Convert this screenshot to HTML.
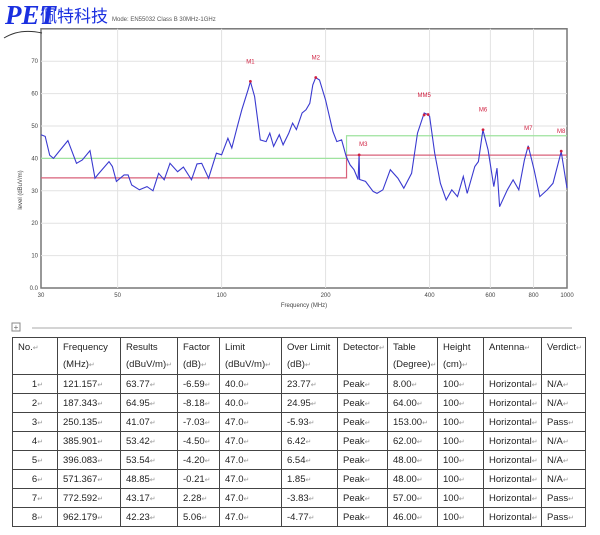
<!DOCTYPE html>
<html><head><meta charset="utf-8">
<style>
body{margin:0;background:#fff;width:600px;height:535px;overflow:hidden;font-family:"Liberation Sans","Noto Sans CJK SC",sans-serif;position:relative}
svg{position:absolute;left:0;top:0}
table{position:absolute;left:12px;top:337px;border-collapse:collapse;font-size:9.5px;color:#222;table-layout:fixed}
td{border:1px solid #444;padding:0 0 0 5px;height:18px;white-space:nowrap;overflow:hidden}
tr.h td{height:35px;vertical-align:top;line-height:17px;padding-top:1px}
.r{color:#999;font-size:7px}
</style></head><body>
<svg width="600" height="335">
<g id="grid"></g><g id="lim"></g><g id="trace"></g><g id="mk"></g><g id="ax"></g>
<text x="112" y="21" font-size="6" fill="#555">Mode: EN55032 Class B 30MHz-1GHz</text>
<text x="5" y="24" font-size="27" font-style="italic" font-family="Liberation Serif" fill="#1a2fe0" font-weight="bold">PET</text>
<text x="40" y="22" font-size="17" fill="#1a2fe0">佩特科技</text>
<path d="M4 38 Q20 28 42 33" stroke="#333" fill="none"/>
<text x="304" y="307" font-size="6" fill="#444" text-anchor="middle">Frequency (MHz)</text>
<text transform="translate(22,190) rotate(-90)" font-size="6" fill="#444" text-anchor="middle">level (dBuV/m)</text>
<line x1="32" y1="328" x2="572" y2="328" stroke="#aaa"/>
<rect x="12" y="323" width="8" height="8" fill="none" stroke="#888"/>
<text x="16" y="330" font-size="8" fill="#666" text-anchor="middle">+</text>
</svg>
<table>
<colgroup><col style="width:45px"><col style="width:63px"><col style="width:57px"><col style="width:42px"><col style="width:62px"><col style="width:56px"><col style="width:50px"><col style="width:50px"><col style="width:46px"><col style="width:58px"><col style="width:44px"></colgroup>
<tbody id="tb"></tbody></table>
<script>
const freqs=[30,30.85,31.8,32.6,33.8,35.9,38,39.5,41.6,43,43.8,47.2,48.3,49.6,52.2,53.6,54.9,57.8,60.8,63.3,65.7,68.2,70.9,74.6,77.5,81.8,84.9,87.6,91.7,96.6,100,104.3,107,111,114.4,119.3,121.2,124.6,129.4,134.5,137.9,141.4,146.9,150.7,156.5,160.5,164.6,171,175.5,180,183.7,187.3,192,200,210,215.5,222.6,229.5,235.5,241.7,248.5,250.1,251,261,274.6,281.7,293,308,324,337,355,369,386,396,400,414,430,447,464,482,501,514,541,554,571,591,614,627,638,672,698,725,753,772,803,834,877,911,962,1000];
const levels=[47.3,46.8,41,40,42.1,45.5,38.5,39.5,42.4,33.9,35,39,37.5,32.9,34.9,34.9,31.8,30.3,31.3,30,35.4,33.4,38.5,35.9,37.3,33.4,38.3,38.5,33.9,41.6,41.1,46.2,43.2,49.8,55,61.2,63.7,59.1,45.7,45.2,47.8,43.7,47.3,44.2,47.8,50.9,48.9,54,55,57,62.7,64.9,64.2,58,48.3,45.2,45.7,40.6,38,36.5,33.5,41.1,33.5,32.9,29.8,29.2,30.3,36.5,33.9,30.8,35.4,47.8,54,53.5,53,41.6,32.3,27.2,30.3,28.2,34.4,29.2,37.5,39,48.8,42.6,31.3,37,25.1,30.3,33.4,30.3,39.5,43.9,36.5,28.2,30.3,32.3,42.1,30.8];
const markerFreqs=[121.157,187.343,250.135,385.901,396.083,571.367,772.592,962.179];
const markerLevels=[63.77,64.95,41.07,53.42,53.54,48.85,43.17,42.23];
const markerLabels=["M1","M2","M3","MM5","","M6","M7","M8"];
const yTicks=[0,10,20,30,40,50,60,70];
const yTickLabels=["0.0","10","20","30","40","50","60","70"];
const xTicks=[30,50,100,200,400,600,800,1000];
const limitA=[[30,40],[230,40],[230,47],[1000,47]];
const limitB=[[30,34],[230,34],[230,41],[1000,41]];
const rows=[["1","121.157","63.77","-6.59","40.0","23.77","Peak","8.00","100","Horizontal","N/A"],
["2","187.343","64.95","-8.18","40.0","24.95","Peak","64.00","100","Horizontal","N/A"],
["3","250.135","41.07","-7.03","47.0","-5.93","Peak","153.00","100","Horizontal","Pass"],
["4","385.901","53.42","-4.50","47.0","6.42","Peak","62.00","100","Horizontal","N/A"],
["5","396.083","53.54","-4.20","47.0","6.54","Peak","48.00","100","Horizontal","N/A"],
["6","571.367","48.85","-0.21","47.0","1.85","Peak","48.00","100","Horizontal","N/A"],
["7","772.592","43.17","2.28","47.0","-3.83","Peak","57.00","100","Horizontal","Pass"],
["8","962.179","42.23","5.06","47.0","-4.77","Peak","46.00","100","Horizontal","Pass"]];
const headers=[["No.",""],["Frequency","(MHz)"],["Results","(dBuV/m)"],["Factor","(dB)"],["Limit","(dBuV/m)"],["Over Limit","(dB)"],["Detector",""],["Table","(Degree)"],["Height","(cm)"],["Antenna",""],["Verdict",""]];
const X0=41,X1=567,Y0=288,PY=3.24;
const xs=f=>X0+(X1-X0)*Math.log10(f/30)/Math.log10(1000/30);
const ys=v=>Y0-v*PY;
const NS="http://www.w3.org/2000/svg";
function mk(p,t,a){const e=document.createElementNS(NS,t);for(const k in a)e.setAttribute(k,a[k]);p.appendChild(e);return e;}
const g=document.getElementById('grid');
const fr=mk(g,'rect',{x:X0,y:ys(80),width:X1-X0,height:Y0-ys(80),fill:'#fff',stroke:'#777','stroke-width':1.5});


const ax=document.getElementById('ax');
yTicks.forEach((v,i)=>{
 if(v>0){const l=mk(g,'line',{x1:X0,x2:X1,y1:ys(v),y2:ys(v),stroke:'#e2e2e2'});
 
 }
 const t=mk(ax,'text',{x:X0-3,y:ys(v)+2,'font-size':6,fill:'#444','text-anchor':'end'});
 t.textContent=yTickLabels[i];
 
 
});
xTicks.forEach(f=>{
 if(f>30&&f<1000){const l=mk(g,'line',{x1:xs(f),x2:xs(f),y1:ys(80),y2:Y0,stroke:'#e2e2e2'});
 
 }
 const t=mk(ax,'text',{x:xs(f),y:Y0+9,'font-size':6,fill:'#444','text-anchor':'middle'});
 t.textContent=f;
 
 
});
const lg=document.getElementById('lim');
const la=mk(lg,'polyline',{points:limitA.map(p=>xs(p[0])+','+ys(p[1])).join(' '),fill:'none',stroke:'#9fe39f','stroke-width':1.2});


const lb=mk(lg,'polyline',{points:limitB.map(p=>xs(p[0])+','+ys(p[1])).join(' '),fill:'none',stroke:'#d9607a','stroke-width':1.2});


const tr=mk(document.getElementById('trace'),'polyline',{points:freqs.map((f,i)=>xs(f).toFixed(1)+','+ys(levels[i]).toFixed(1)).join(' '),fill:'none',stroke:'#3a3ad0','stroke-width':1.1});


const mg=document.getElementById('mk');
markerFreqs.forEach((f,i)=>{
 const c=mk(mg,'circle',{cx:xs(f),cy:ys(markerLevels[i]),r:1.4,fill:'#d02040'});
 
 
 if(markerLabels[i]){const t=mk(mg,'text',{x:xs(f),y:ys(markerLevels[i])-18,'font-size':6,fill:'#d02040','text-anchor':i==2?'start':'middle'});
 if(i==2)t.setAttribute('y',ys(markerLevels[i])-9);
 t.textContent=markerLabels[i];
 
 }
});
const tb=document.getElementById('tb');
const hr=document.createElement('tr');hr.className='h';tb.appendChild(hr);


headers.forEach(h=>{const td=document.createElement('td');td.innerHTML=h[0]+(h[1]?'<br>'+h[1]:'')+'<span class="r">↵</span>';hr.appendChild(td);
 
 });
rows.forEach(r=>{const row=document.createElement('tr');tb.appendChild(row);
 
 
 r.forEach((v,j)=>{const td=document.createElement('td');td.innerHTML=v+'<span class="r">↵</span>';if(j==0)td.style.textAlign='center';row.appendChild(td);
 
 });});
</script>
</body></html>
